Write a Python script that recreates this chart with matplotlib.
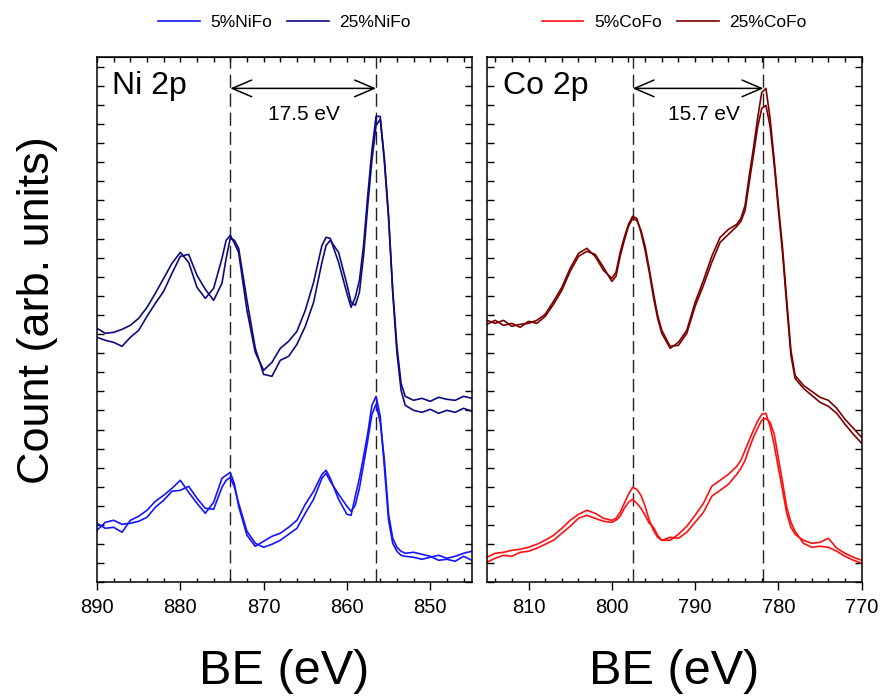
from __future__ import annotations

import matplotlib

matplotlib.use("Agg")
import matplotlib.pyplot as plt
from matplotlib.ticker import MultipleLocator

plt.rcParams["font.family"] = ["Liberation Sans", "DejaVu Sans"]

# Ni 2p region, binding energy (eV) and counts (arb. units)
ni_be = [890, 889, 888, 887, 886, 885, 884, 883, 882, 881, 880, 879, 878, 877, 876, 875,
         874.5, 874, 873.5, 873, 872, 871, 870, 869, 868, 867, 866, 865, 864, 863,
         862.5, 862, 861, 860, 859.5, 859, 858.5, 858, 857.5, 857, 856.5, 856, 855.5,
         855, 854.5, 854, 853.5, 853, 852, 851, 850, 849, 848, 847, 846, 845]

nife25_a = [254, 249, 250, 253, 257, 264, 275, 289, 304, 319, 330, 320, 295, 284, 294, 324,
            342, 347, 339, 330, 272, 230, 212, 220, 234, 241, 251, 272, 300, 337,
            345, 344, 320, 289, 275, 285, 302, 337, 387, 432, 466, 466, 420,
            364, 292, 236, 199, 186, 182, 184, 181, 185, 183, 182, 186, 184]
nife25_b = [245, 242, 240, 236, 245, 252, 266, 279, 291, 309, 326, 328, 307, 293, 282, 299,
            324, 344, 342, 334, 282, 234, 208, 206, 222, 226, 238, 256, 280, 320,
            337, 342, 330, 298, 280, 277, 290, 327, 377, 422, 457, 463, 424,
            367, 290, 230, 192, 177, 172, 170, 173, 169, 172, 170, 174, 171]
nife5_a = [59, 54, 55, 50, 62, 66, 72, 81, 87, 94, 102, 90, 79, 69, 80, 104,
           107, 110, 98, 76, 47, 36, 41, 46, 49, 55, 62, 78, 91, 108,
           112, 104, 83, 68, 67, 86, 104, 126, 149, 177, 186, 166, 115,
           62, 39, 31, 27, 26, 25, 23, 25, 27, 24, 26, 29, 31]
nife5_b = [52, 60, 62, 58, 59, 61, 65, 75, 82, 91, 92, 96, 84, 74, 73, 95,
           102, 105, 95, 79, 51, 39, 35, 38, 42, 48, 54, 69, 83, 104,
           109, 101, 88, 76, 71, 77, 94, 118, 142, 168, 178, 160, 122,
           68, 44, 35, 31, 29, 30, 28, 26, 22, 23, 21, 26, 22]

# Co 2p region
co_be = [815, 814, 813, 812, 811, 810, 809, 808, 807, 806, 805, 804, 803, 802, 801, 800,
         799.5, 799, 798.5, 798, 797.5, 797, 796.5, 796, 795.5, 795, 794.5,
         794, 793, 792, 791, 790, 789, 788, 787, 786, 785,
         784.5, 784, 783.5, 783, 782.5, 782, 781.5, 781, 780.5, 780, 779.5, 779, 778.5, 778,
         777, 776, 775, 774, 773, 772, 771, 770]

cofe25_a = [262, 259, 262, 256, 258, 259, 262, 268, 281, 295, 314, 329, 334, 326, 312, 304,
            310, 330, 345, 358, 366, 364, 350, 332, 310, 285, 264,
            249, 234, 240, 252, 280, 302, 326, 345, 353, 358,
            364, 377, 407, 434, 464, 490, 494, 464, 422, 377, 334, 282, 232, 207,
            197, 191, 185, 182, 174, 163, 154, 145]
cofe25_b = [258, 262, 257, 259, 255, 261, 259, 266, 278, 292, 311, 326, 331, 328, 315, 301,
            306, 326, 342, 356, 364, 362, 352, 336, 313, 289, 267,
            252, 236, 237, 249, 276, 297, 320, 340, 348, 356,
            361, 372, 400, 427, 455, 474, 477, 456, 417, 372, 329, 277, 227, 204,
            194, 187, 180, 176, 169, 158, 148, 139]
cofe5_a = [25, 29, 30, 32, 33, 35, 38, 42, 47, 54, 62, 68, 72, 69, 64, 62,
           64, 70, 79, 88, 95, 93, 87, 76, 62, 52, 45,
           42, 42, 48, 56, 67, 79, 96, 102, 108, 116,
           122, 132, 142, 152, 161, 168, 169, 156, 137, 114, 92, 69, 55, 48,
           42, 39, 40, 44, 34, 29, 25, 22]
cofe5_b = [20, 24, 27, 26, 30, 31, 34, 38, 42, 49, 56, 64, 67, 64, 61, 60,
           62, 66, 74, 80, 83, 79, 74, 67, 59, 55, 47,
           42, 45, 44, 50, 60, 70, 86, 92, 98, 108,
           114, 122, 134, 145, 154, 162, 164, 160, 148, 124, 100, 75, 60, 51,
           39, 35, 36, 35, 31, 26, 22, 19]

# peak positions (2p1/2, 2p3/2) and splitting labels
ni_peaks = [874.0, 856.5]
co_peaks = [797.5, 781.8]
ni_split = "17.5 eV"
co_split = "15.7 eV"

BLUE = "#1414ff"
NAVY = "#0c0c80"
RED = "#ff1010"
DARKRED = "#7a0000"
LW = 1.2
YMAX = 525.6
YSTEP = 19.1


def style_axes(ax, xlim) -> None:
    ax.set_xlim(*xlim)
    ax.set_ylim(0, YMAX)
    ax.xaxis.set_major_locator(MultipleLocator(10))
    ax.xaxis.set_minor_locator(MultipleLocator(2))
    ax.yaxis.set_major_locator(MultipleLocator(YSTEP))
    ax.tick_params(axis="x", which="major", direction="out", length=6, width=1,
                   labelsize=14.5, pad=5, top=False)
    ax.tick_params(axis="x", which="minor", direction="in", length=3, width=1, top=False)
    ax.tick_params(axis="y", which="both", direction="in", length=5, width=1,
                   left=True, right=True, labelleft=False)
    for s in ax.spines.values():
        s.set_linewidth(1.1)
    top = ax.secondary_xaxis("top")
    top.xaxis.set_major_locator(MultipleLocator(2))
    top.tick_params(direction="in", length=3.5, width=1, labeltop=False)
    ax.set_xlabel("BE (eV)", fontsize=35)
    ax.xaxis.set_label_coords(0.5, -0.127)


def peak_marks(ax, peaks, text, text_x) -> None:
    for p in peaks:
        ax.axvline(p, color="#222222", lw=1.0, ls=(0, (9.5, 4.2)), zorder=1)
    ax.annotate("", xy=(peaks[1], 494), xytext=(peaks[0], 494),
                arrowprops=dict(arrowstyle="<->,head_length=0.7,head_width=0.3",
                                lw=1.1, color="black", shrinkA=0, shrinkB=0,
                                mutation_scale=20))
    ax.text(text_x, 468, text, ha="center", va="center", fontsize=15)


def main() -> None:
    fig = plt.figure(figsize=(8.82, 6.96), dpi=100)
    ax1 = fig.add_axes([0.110, 0.1634, 0.425, 0.755])
    ax2 = fig.add_axes([0.552, 0.1634, 0.425, 0.755])

    ax1.plot(ni_be, nife5_a, color=BLUE, lw=LW, label="5%NiFo")
    ax1.plot(ni_be, nife5_b, color=BLUE, lw=LW)
    ax1.plot(ni_be, nife25_a, color=NAVY, lw=LW, label="25%NiFo")
    ax1.plot(ni_be, nife25_b, color=NAVY, lw=LW)
    style_axes(ax1, (890, 845))
    peak_marks(ax1, ni_peaks, ni_split, 865.2)
    ax1.text(0.04, 0.93, "Ni 2p", transform=ax1.transAxes, fontsize=23,
             ha="left", va="baseline")

    ax2.plot(co_be, cofe5_a, color=RED, lw=LW, label="5%CoFo")
    ax2.plot(co_be, cofe5_b, color=RED, lw=LW)
    ax2.plot(co_be, cofe25_a, color=DARKRED, lw=LW, label="25%CoFo")
    ax2.plot(co_be, cofe25_b, color=DARKRED, lw=LW)
    style_axes(ax2, (815, 770))
    peak_marks(ax2, co_peaks, co_split, 789.0)
    ax2.text(0.043, 0.93, "Co 2p", transform=ax2.transAxes, fontsize=23,
             ha="left", va="baseline")

    for ax in (ax1, ax2):
        ax.legend(loc="center", bbox_to_anchor=(0.5, 1.066), ncol=2, frameon=False,
                  fontsize=12.5, handlelength=2.4, handletextpad=0.6, columnspacing=0.9)

    fig.text(0.042, 0.555, "Count (arb. units)", rotation=90, fontsize=32.5,
             ha="center", va="center")
    fig.savefig("out.png", dpi=100)
    plt.close(fig)


if __name__ == "__main__":
    main()
